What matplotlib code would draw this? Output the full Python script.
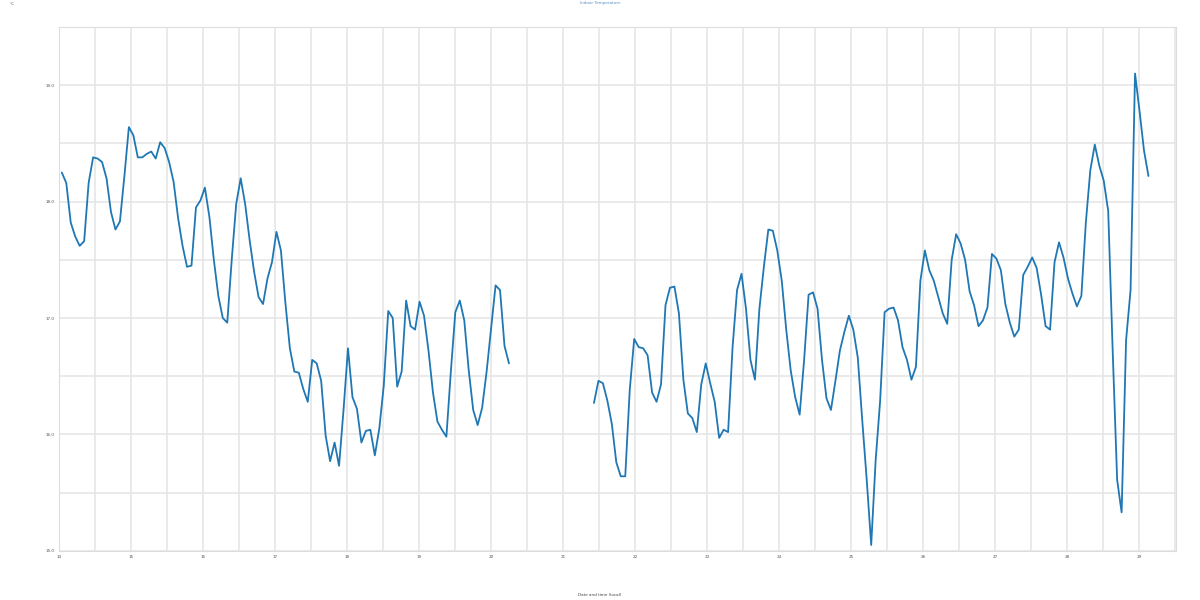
import numpy as np
import pandas as pd
import matplotlib
matplotlib.use("Agg")
import matplotlib.pyplot as plt
import matplotlib.dates as mdates
import seaborn as sns

# indoor temperature, one reading roughly every 90 minutes
temp_part1 = [18.25, 18.16, 17.82, 17.70, 17.62, 17.66, 18.16, 18.38, 18.37, 18.34,
              18.20, 17.91, 17.76, 17.83, 18.22, 18.64, 18.57, 18.38, 18.38, 18.41,
              18.43, 18.37, 18.51, 18.46, 18.34, 18.17, 17.86, 17.62, 17.44, 17.45,
              17.95, 18.01, 18.12, 17.87, 17.50, 17.19, 17.00, 16.96, 17.50, 17.98,
              18.20, 17.98, 17.67, 17.40, 17.18, 17.12, 17.34, 17.48, 17.74, 17.58,
              17.13, 16.74, 16.54, 16.53, 16.39, 16.28, 16.64, 16.61, 16.46, 15.99,
              15.77, 15.93, 15.73, 16.21, 16.74, 16.32, 16.22, 15.93, 16.03, 16.04,
              15.82, 16.05, 16.42, 17.06, 17.00, 16.41, 16.54, 17.15, 16.93, 16.90,
              17.14, 17.02, 16.72, 16.36, 16.11, 16.04, 15.98, 16.54, 17.05, 17.15,
              16.98, 16.55, 16.21, 16.08, 16.23, 16.54, 16.91, 17.28, 17.24, 16.76,
              16.61]
n_missing = 18
temp_part2 = [16.27, 16.46, 16.44, 16.29, 16.09, 15.76, 15.64, 15.64, 16.38, 16.82,
              16.75, 16.74, 16.68, 16.36, 16.28, 16.43, 17.11, 17.26, 17.27, 17.04,
              16.47, 16.18, 16.14, 16.02, 16.43, 16.61, 16.44, 16.28, 15.97, 16.04,
              16.02, 16.75, 17.24, 17.38, 17.08, 16.64, 16.47, 17.08, 17.44,
              17.76, 17.75, 17.58, 17.32, 16.90, 16.55, 16.32, 16.17, 16.64, 17.20,
              17.22, 17.08, 16.64, 16.31, 16.21, 16.46, 16.72, 16.88, 17.02, 16.90,
              16.66, 16.12, 15.61, 15.05, 15.78, 16.29, 17.05, 17.08, 17.09, 16.98,
              16.75, 16.64, 16.47, 16.58, 17.32, 17.58, 17.41, 17.32, 17.18, 17.04,
              16.95, 17.50, 17.72, 17.64, 17.50, 17.23, 17.11, 16.93, 16.98,
              17.09, 17.55, 17.51, 17.41, 17.12, 16.96, 16.84, 16.90, 17.37, 17.44,
              17.52, 17.43, 17.20, 16.93, 16.90, 17.48, 17.65, 17.52, 17.34,
              17.21, 17.10, 17.19, 17.82, 18.27, 18.49, 18.31, 18.18, 17.92, 16.72,
              15.61, 15.33, 16.81, 17.24, 19.10, 18.78, 18.44, 18.22]

temps = np.array(temp_part1 + [np.nan] * n_missing + temp_part2)
times = pd.date_range("2023-01-14 01:00", periods=len(temps), freq="5364s")

sns.set_style("whitegrid")
plt.rcParams['font.family'] = ['DejaVu Sans']

fig = plt.figure(figsize=(12, 6), dpi=100)
ax = fig.add_axes([0.049, 0.082, 0.931, 0.873])
ax.plot(times, temps, color="#1f77b4", lw=1.3)

ax.set_xlim(pd.Timestamp("2023-01-14"), pd.Timestamp("2023-01-29 12:15"))
ax.set_ylim(15.0, 19.5)
ax.xaxis.set_major_locator(mdates.DayLocator())
ax.xaxis.set_minor_locator(mdates.HourLocator(byhour=[12]))
ax.xaxis.set_major_formatter(mdates.DateFormatter("%d"))
ax.yaxis.set_major_locator(plt.MultipleLocator(1.0))
ax.yaxis.set_minor_locator(plt.MultipleLocator(0.5))
ax.yaxis.set_major_formatter(plt.FormatStrFormatter("%.1f"))
ax.grid(True, which="both", color="#e6e6e6", lw=1.2)
ax.tick_params(labelsize=3, colors="#555555", length=0, pad=3)
for s in ax.spines.values():
    s.set_color("#dddddd")

# title and axis label sit at the figure centre
fig.text(0.5, 0.998, "Indoor Temperature", fontsize=3, color="#5b8fc7", ha="center", va="top")
fig.text(0.5, 0.005, "Date and time (local)", fontsize=3, color="#444444", ha="center", va="bottom")
fig.text(0.008, 0.997, "°C", fontsize=3, color="#555555", va="top")

fig.savefig("out.png", dpi=100)
